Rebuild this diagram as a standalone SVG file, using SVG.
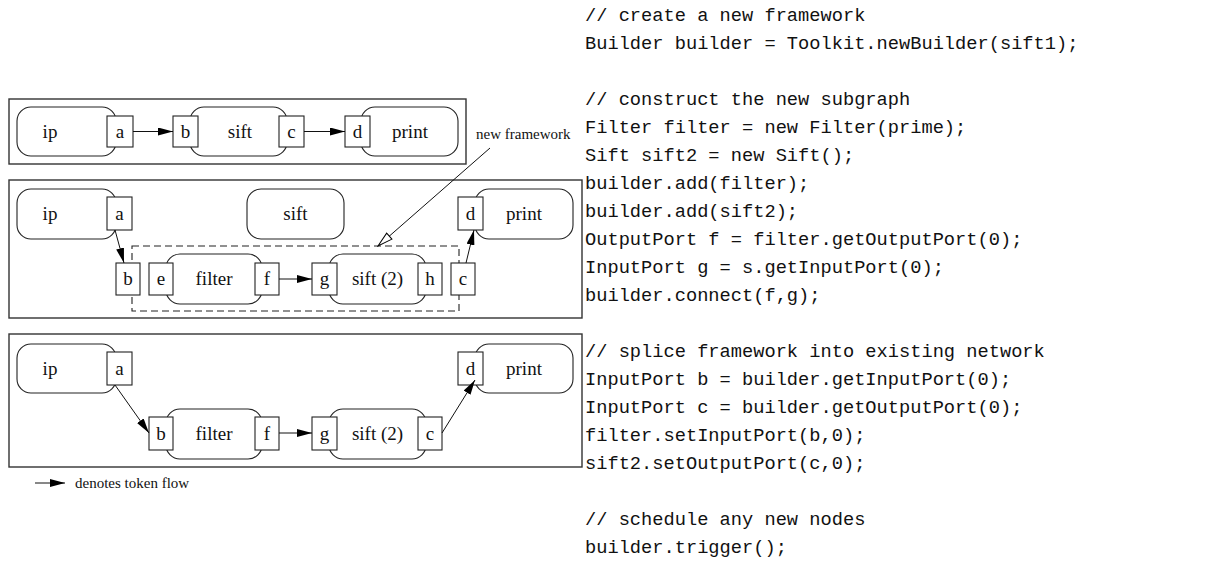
<svg xmlns="http://www.w3.org/2000/svg" width="1225" height="587" viewBox="0 0 1225 587">
  <defs>
    <marker id="flow" viewBox="0 0 15 8" refX="15" refY="4" markerWidth="15" markerHeight="8" markerUnits="userSpaceOnUse" orient="auto">
      <path d="M0,0 L15,4 L0,8 Z" fill="#000"/>
    </marker>
    <marker id="hollow" viewBox="0 0 17 10" refX="16" refY="5" markerWidth="17" markerHeight="10" markerUnits="userSpaceOnUse" orient="auto">
      <path d="M1,1 L16,5 L1,9 Z" fill="#fff" stroke="#000" stroke-width="1"/>
    </marker>
  </defs>
  <style>
    .panel { fill: #fff; stroke: #333; stroke-width: 1.4; }
    .node { fill: #fff; stroke: #222; stroke-width: 1.1; }
    .port { fill: #fff; stroke: #222; stroke-width: 1.1; }
    .frame { fill: none; stroke: #222; stroke-width: 1.1; stroke-dasharray: 7 4; }
    .lbl { font-family: "Liberation Serif", "Times New Roman", serif; font-size: 19px; fill: #111; text-anchor: middle; }
    .note { font-family: "Liberation Serif", "Times New Roman", serif; font-size: 15px; fill: #111; }
    .code { font-family: "Liberation Mono", "Courier New", monospace; font-size: 18.7px; fill: #111; }
    .edge { fill: none; stroke: #111; stroke-width: 1; marker-end: url(#flow); }
    .pointer { fill: none; stroke: #111; stroke-width: 1; marker-end: url(#hollow); }
  </style>

  <rect width="1225" height="587" fill="#fff"/>

  <!-- panel borders -->
  <g id="panels">
    <rect class="panel" x="9" y="99" width="457" height="65"/>
    <rect class="panel" x="9" y="180" width="573" height="138"/>
    <rect class="panel" x="9" y="334" width="573" height="133"/>
  </g>

  <!-- row 1: original network -->
  <g id="p1-ip">
    <rect class="node" x="17" y="107" width="99" height="49" rx="14"/>
    <text class="lbl" x="50" y="138">ip</text>
    <rect class="port" x="107" y="116" width="26" height="31"/>
    <text class="lbl" x="120" y="138">a</text>
  </g>
  <g id="p1-sift">
    <rect class="node" x="190" y="107" width="97" height="49" rx="14"/>
    <text class="lbl" x="240" y="138">sift</text>
    <rect class="port" x="173" y="116" width="25" height="31"/>
    <text class="lbl" x="185.5" y="138">b</text>
    <rect class="port" x="279" y="116" width="25" height="31"/>
    <text class="lbl" x="291.5" y="138">c</text>
  </g>
  <g id="p1-print">
    <rect class="node" x="361" y="107" width="97" height="49" rx="14"/>
    <text class="lbl" x="410" y="138">print</text>
    <rect class="port" x="345" y="116" width="25" height="31"/>
    <text class="lbl" x="357.5" y="138">d</text>
  </g>

  <!-- row 2: framework being built -->
  <g id="p2-ip">
    <rect class="node" x="17" y="189" width="99" height="50" rx="14"/>
    <text class="lbl" x="50" y="220">ip</text>
    <rect class="port" x="107" y="197" width="25" height="33"/>
    <text class="lbl" x="119.5" y="220">a</text>
  </g>
  <g id="p2-sift">
    <rect class="node" x="247" y="189" width="97" height="50" rx="14"/>
    <text class="lbl" x="295.5" y="220">sift</text>
  </g>
  <g id="p2-print">
    <rect class="node" x="475" y="189" width="98" height="50" rx="14"/>
    <text class="lbl" x="524" y="220">print</text>
    <rect class="port" x="458" y="197" width="25" height="33"/>
    <text class="lbl" x="470.5" y="220">d</text>
  </g>
  <g id="p2-framework">
    <rect class="frame" x="132" y="246" width="327" height="65"/>
    <rect class="port" x="116" y="263" width="24" height="32"/>
    <text class="lbl" x="128" y="285">b</text>
    <rect class="port" x="451" y="263" width="24" height="32"/>
    <text class="lbl" x="463" y="285">c</text>
  </g>
  <g id="p2-filter">
    <rect class="node" x="166" y="254" width="96" height="50" rx="14"/>
    <text class="lbl" x="214" y="285">filter</text>
    <rect class="port" x="149" y="263" width="24" height="32"/>
    <text class="lbl" x="161" y="285">e</text>
    <rect class="port" x="255" y="263" width="24" height="32"/>
    <text class="lbl" x="267" y="285">f</text>
  </g>
  <g id="p2-sift2">
    <rect class="node" x="329" y="254" width="97" height="50" rx="14"/>
    <text class="lbl" x="377.5" y="285">sift (2)</text>
    <rect class="port" x="312" y="263" width="25" height="32"/>
    <text class="lbl" x="324.5" y="285">g</text>
    <rect class="port" x="418" y="263" width="24" height="32"/>
    <text class="lbl" x="430" y="285">h</text>
  </g>

  <!-- row 3: framework spliced into the network -->
  <g id="p3-ip">
    <rect class="node" x="17" y="344" width="99" height="49" rx="14"/>
    <text class="lbl" x="50" y="375">ip</text>
    <rect class="port" x="107" y="352" width="25" height="33"/>
    <text class="lbl" x="119.5" y="375">a</text>
  </g>
  <g id="p3-filter">
    <rect class="node" x="166" y="409" width="96" height="50" rx="14"/>
    <text class="lbl" x="214" y="440">filter</text>
    <rect class="port" x="149" y="417" width="24" height="33"/>
    <text class="lbl" x="161" y="440">b</text>
    <rect class="port" x="255" y="417" width="24" height="33"/>
    <text class="lbl" x="267" y="440">f</text>
  </g>
  <g id="p3-sift2">
    <rect class="node" x="329" y="409" width="97" height="50" rx="14"/>
    <text class="lbl" x="377.5" y="440">sift (2)</text>
    <rect class="port" x="312" y="417" width="25" height="33"/>
    <text class="lbl" x="324.5" y="440">g</text>
    <rect class="port" x="418" y="417" width="24" height="33"/>
    <text class="lbl" x="430" y="440">c</text>
  </g>
  <g id="p3-print">
    <rect class="node" x="475" y="344" width="98" height="49" rx="14"/>
    <text class="lbl" x="524" y="375">print</text>
    <rect class="port" x="458" y="352" width="25" height="33"/>
    <text class="lbl" x="470.5" y="375">d</text>
  </g>

  <!-- token-flow connections and the framework pointer -->
  <g id="connectors">
    <line class="edge" x1="133" y1="131.5" x2="173" y2="131.5"/>
    <line class="edge" x1="304" y1="131.5" x2="345" y2="131.5"/>

    <line class="edge" x1="115" y1="230" x2="124" y2="263"/>
    <line class="edge" x1="279" y1="279" x2="312" y2="279"/>
    <line class="edge" x1="466" y1="263" x2="474" y2="230"/>
    <line class="pointer" x1="490" y1="148" x2="378" y2="246"/>

    <line class="edge" x1="115" y1="385" x2="149" y2="433"/>
    <line class="edge" x1="279" y1="433" x2="312" y2="433"/>
    <line class="edge" x1="442" y1="433" x2="475" y2="380"/>

    <line class="edge" x1="35" y1="483" x2="65" y2="483"/>
  </g>

  <g id="annotations">
    <text class="note" x="476" y="139">new framework</text>
    <text class="note" x="75" y="488">denotes token flow</text>
  </g>

  <!-- builder code listing -->
  <g id="listing" class="code">
    <text x="585" y="20.5">// create a new framework</text>
    <text x="585" y="48.5">Builder builder = Toolkit.newBuilder(sift1);</text>
    <text x="585" y="104.5">// construct the new subgraph</text>
    <text x="585" y="132.5">Filter filter = new Filter(prime);</text>
    <text x="585" y="160.5">Sift sift2 = new Sift();</text>
    <text x="585" y="188.5">builder.add(filter);</text>
    <text x="585" y="216.5">builder.add(sift2);</text>
    <text x="585" y="244.5">OutputPort f = filter.getOutputPort(0);</text>
    <text x="585" y="272.5">InputPort g = s.getInputPort(0);</text>
    <text x="585" y="300.5">builder.connect(f,g);</text>
    <text x="585" y="356.5">// splice framework into existing network</text>
    <text x="585" y="384.5">InputPort b = builder.getInputPort(0);</text>
    <text x="585" y="412.5">InputPort c = builder.getOutputPort(0);</text>
    <text x="585" y="440.5">filter.setInputPort(b,0);</text>
    <text x="585" y="468.5">sift2.setOutputPort(c,0);</text>
    <text x="585" y="524.5">// schedule any new nodes</text>
    <text x="585" y="552.5">builder.trigger();</text>
  </g>
</svg>
